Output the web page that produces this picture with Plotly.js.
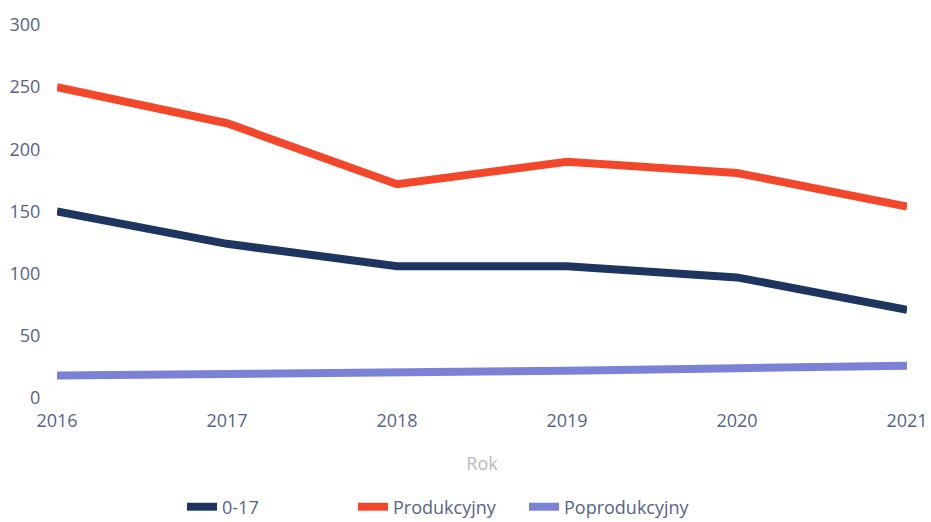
<!DOCTYPE html>
<html>
<head>
<meta charset="utf-8">
<script src="https://cdn.plot.ly/plotly-3.0.1.min.js"></script>
<style>html,body{margin:0;padding:0;background:#fff;}#chart{width:931px;height:522px;}</style>
</head>
<body>
<div id="chart"></div>
<script>
const years = [2016, 2017, 2018, 2019, 2020, 2021];
const age0_17 = [150, 124, 106, 106, 97, 71];
const produkcyjny = [250, 221, 172, 190, 181, 154];
const poprodukcyjny = [18, 19, 20, 22, 24, 26];
const seriesNames = ['0-17', 'Produkcyjny', 'Poprodukcyjny'];
const yTicks = [0, 50, 100, 150, 200, 250, 300];

const colors = ['#1e3560', '#f2472a', '#7b82d6'];
const tickColor = '#566484';
const font = '"Open Sans", "Noto Sans", sans-serif';

const traces = [age0_17, produkcyjny, poprodukcyjny].map((vals, i) => ({
  type: 'scatter', mode: 'lines', x: years, y: vals, name: seriesNames[i],
  line: {color: colors[i], width: 8}
}));

const layout = {
  width: 931, height: 522,
  margin: {l: 57, r: 24, t: 25, b: 124},
  paper_bgcolor: '#fff', plot_bgcolor: '#fff',
  font: {family: font, color: tickColor, size: 18},
  showlegend: true,
  legend: {
    orientation: 'h', xref: 'container', yref: 'container',
    x: 182/931, xanchor: 'left', y: 15/522, yanchor: 'middle',
    entrywidth: 126, entrywidthmode: 'pixels',
    font: {size: 18, color: tickColor}, traceorder: 'normal'
  },
  xaxis: {
    range: [2016, 2021], tickvals: years, ticktext: years.map(String),
    showgrid: false, zeroline: false, showline: false,
    ticks: 'outside', ticklen: 6, tickcolor: 'rgba(0,0,0,0)',
    tickfont: {size: 18, color: tickColor},
    title: {text: 'Rok', font: {size: 18, color: '#b3b8c6'}, standoff: 26}
  },
  yaxis: {
    range: [0, 300], tickvals: yTicks,
    showgrid: false, zeroline: false, showline: false,
    ticks: 'outside', ticklen: 12, tickcolor: 'rgba(0,0,0,0)',
    tickfont: {size: 18, color: tickColor}
  }
};

Plotly.newPlot('chart', traces, layout, {displayModeBar: false, staticPlot: true});
</script>
</body>
</html>
